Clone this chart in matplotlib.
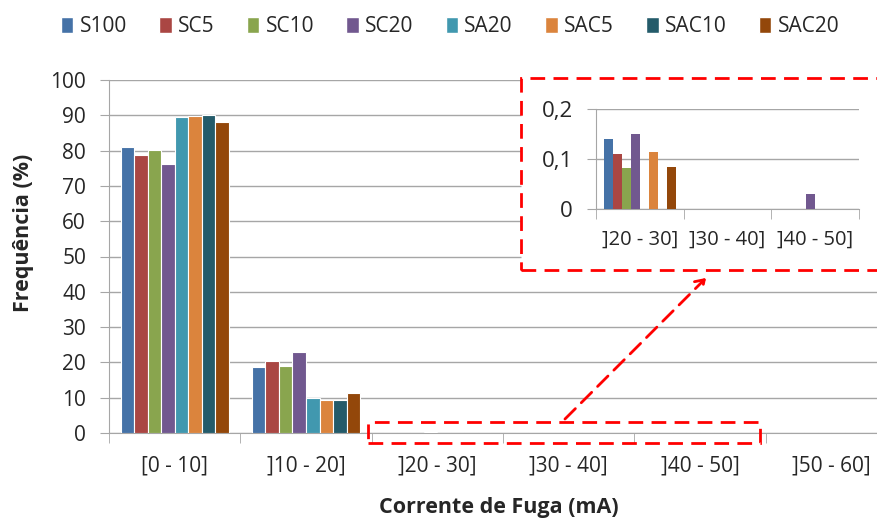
import numpy as np
import matplotlib
matplotlib.use("Agg")
import matplotlib.pyplot as plt
from matplotlib.patches import Patch, Rectangle, FancyArrowPatch

plt.rcParams["font.family"] = ["Open Sans", "DejaVu Sans"]

# ── data ─────────────────────────────────────────────────────────────────────
categories = ["[0 - 10]", "]10 - 20]", "]20 - 30]", "]30 - 40]", "]40 - 50]", "]50 - 60]"]
series = ["S100", "SC5", "SC10", "SC20", "SA20", "SAC5", "SAC10", "SAC20"]
colors = ["#4572A7", "#AA4643", "#89A54E", "#71588F", "#4198AF", "#DB843D", "#245B6A", "#93470A"]

s100  = [80.9, 18.7, 0.14,  0, 0,    0]
sc5   = [78.7, 20.4, 0.11,  0, 0,    0]
sc10  = [80.1, 19.0, 0.083, 0, 0,    0]
sc20  = [76.1, 22.9, 0.15,  0, 0.03, 0]
sa20  = [89.4, 10.0, 0,     0, 0,    0]
sac5  = [89.8, 9.4,  0.115, 0, 0,    0]
sac10 = [90.2, 9.4,  0,     0, 0,    0]
sac20 = [88.0, 11.2, 0.085, 0, 0,    0]
values = [s100, sc5, sc10, sc20, sa20, sac5, sac10, sac20]

inset_idx = [2, 3, 4]  # categories shown in the zoom box

W, H = 877, 520
RED = "#FF0000"
GRID = "#A6A6A6"
TXT = "#262626"
DASH = (0, (5.3, 3))

def fx(px):
    return px / W

def fy(py):
    return 1 - py / H

fig = plt.figure(figsize=(W / 100, H / 100), dpi=100)

# ── main axes (runs past the right edge like the original) ──────────────────
ax = fig.add_axes([fx(109), fy(433), 788 / W, 353 / H], zorder=0)
x = np.arange(len(categories))
bw = 0.103
for i, (vals, c) in enumerate(zip(values, colors)):
    ax.bar(x + (i - 3.5) * bw, vals, bw, color=c, edgecolor="white", linewidth=0.8, zorder=3)

ax.set_xlim(-0.5, len(categories) - 0.5)
ax.set_ylim(0, 100)
ax.set_yticks(np.arange(0, 101, 10))
ax.yaxis.grid(True, color=GRID, linewidth=1, zorder=0)
ax.set_axisbelow(True)
for s in ["top", "right"]:
    ax.spines[s].set_visible(False)
for s in ["left", "bottom"]:
    ax.spines[s].set_color(GRID)

ax.set_xticks(x)
ax.set_xticklabels(categories)
ax.set_xticks(np.arange(-0.5, len(categories), 1), minor=True)
ax.tick_params(axis="x", which="major", length=0, pad=16, labelsize=15, labelcolor=TXT)
ax.tick_params(axis="x", which="minor", length=7, color=GRID)
ax.tick_params(axis="y", length=6.5, color=GRID, pad=10, labelsize=15, labelcolor=TXT)

fig.text(fx(24), fy(233), "Frequência (%)", rotation=90, ha="center", va="center",
         fontsize=15.5, fontweight="bold", color=TXT)
fig.text(fx(499), fy(507), "Corrente de Fuga (mA)", ha="center", va="center",
         fontsize=15.5, fontweight="bold", color=TXT)

# ── legend ───────────────────────────────────────────────────────────────────
handles = [Patch(facecolor=c, edgecolor="white") for c in colors]
fig.legend(handles, series, loc="center", bbox_to_anchor=(fx(450), fy(27)), ncol=8,
           frameon=False, fontsize=15, handlelength=0.6, handleheight=0.8,
           handletextpad=0.3, columnspacing=1.55, labelcolor=TXT)

# ── zoom box with inset ──────────────────────────────────────────────────────
fig.add_artist(Rectangle((fx(521), fy(270)), fx(400), 192 / H, transform=fig.transFigure,
                         facecolor="white", edgecolor=RED, linewidth=2, linestyle=DASH, zorder=1))
fig.add_artist(Rectangle((fx(368), fy(443)), fx(392), 21 / H, transform=fig.transFigure,
                         facecolor="none", edgecolor=RED, linewidth=2, linestyle=DASH, zorder=1))
fig.add_artist(FancyArrowPatch((fx(563), fy(421)), (fx(708), fy(276)), transform=fig.transFigure,
                               arrowstyle="->,head_length=6,head_width=4", color=RED,
                               linewidth=2, linestyle=DASH, zorder=1))

axi = fig.add_axes([fx(596), fy(209.3), 263 / W, 100.3 / H], zorder=2)
xi = np.arange(len(inset_idx))
for i, (vals, c) in enumerate(zip(values, colors)):
    axi.bar(xi + (i - 3.5) * bw, [vals[k] for k in inset_idx], bw, color=c, linewidth=0, zorder=3)
axi.set_xlim(-0.5, len(inset_idx) - 0.5)
axi.set_ylim(0, 0.2)
axi.set_yticks([0, 0.1, 0.2])
axi.set_yticklabels(["0", "0,1", "0,2"])
axi.yaxis.grid(True, color=GRID, linewidth=1, zorder=0)
axi.set_axisbelow(True)
for s in ["top", "right"]:
    axi.spines[s].set_visible(False)
for s in ["left", "bottom"]:
    axi.spines[s].set_color(GRID)
axi.set_xticks(xi)
axi.set_xticklabels([categories[k] for k in inset_idx])
axi.set_xticks(np.arange(-0.5, len(inset_idx), 1), minor=True)
axi.tick_params(axis="x", which="major", length=0, pad=15, labelsize=14.5, labelcolor=TXT)
axi.tick_params(axis="x", which="minor", length=7, color=GRID)
axi.tick_params(axis="y", length=6.5, color=GRID, pad=10, labelsize=16, labelcolor=TXT)

fig.savefig("out.png", dpi=100)
